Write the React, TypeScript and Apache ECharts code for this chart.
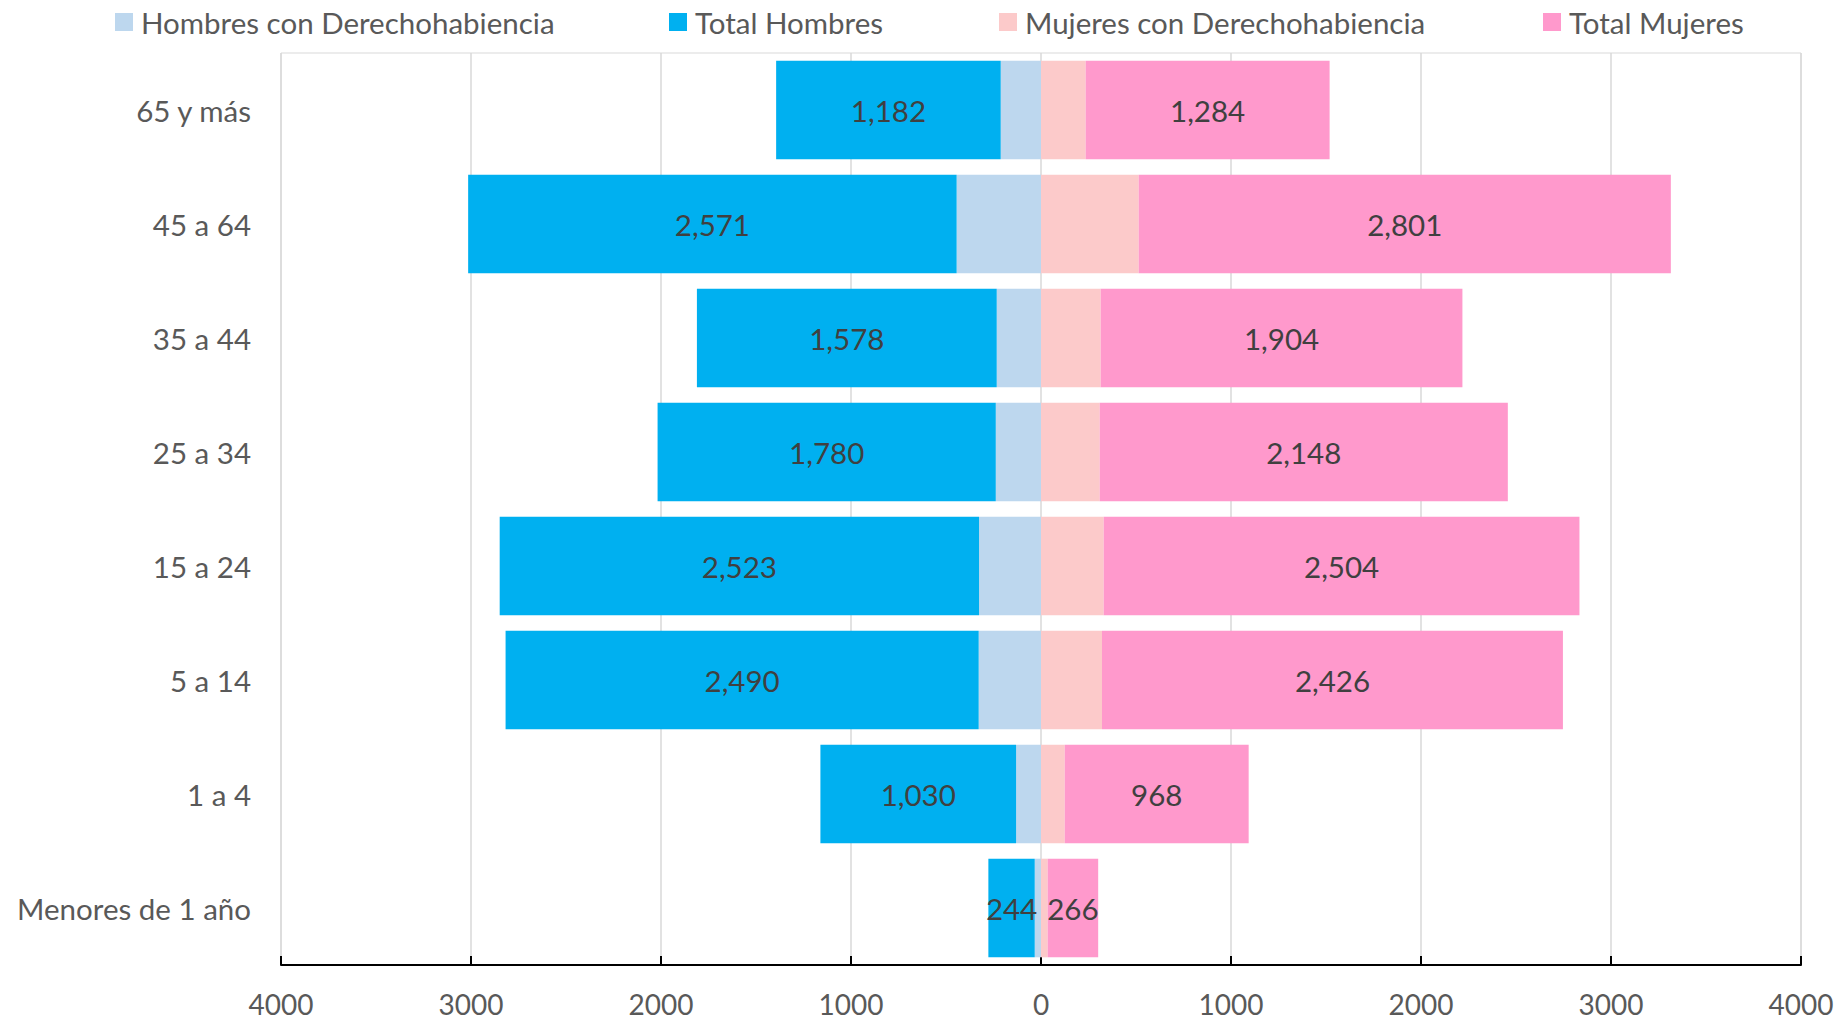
import React, { useEffect, useRef } from "react";
import * as echarts from "echarts";

const categories = ["Menores de 1 año", "1 a 4", "5 a 14", "15 a 24", "25 a 34", "35 a 44", "45 a 64", "65 y más"];
const hombresDH = [33, 131, 328, 326, 238, 233, 444, 212];
const totalHombres = [244, 1030, 2490, 2523, 1780, 1578, 2571, 1182];
const mujeresDH = [35, 125, 321, 330, 309, 314, 514, 235];
const totalMujeres = [266, 968, 2426, 2504, 2148, 1904, 2801, 1284];
const seriesNames = ["Hombres con Derechohabiencia", "Total Hombres", "Mujeres con Derechohabiencia", "Total Mujeres"];
const colors = ["#BDD7EE", "#00B0F0", "#FCCACA", "#FF99CC"];

const FONT = "Lato";
const FS = 29.5;

export default function App() {
  const ref = useRef<HTMLDivElement>(null);
  useEffect(() => {
    const chart = echarts.init(ref.current!, null, { renderer: "svg" });
    const fmt = (v: number) => Math.abs(v).toLocaleString("en-US");
    const valueLabel = {
      show: true,
      position: "inside",
      color: "#404040",
      fontFamily: FONT,
      fontSize: FS,
      formatter: (p: any) => fmt(p.value),
    };
    const legendPos = [115, 669, 999, 1543];
    const option: any = {
      animation: false,
      textStyle: { fontFamily: FONT },
      color: colors,
      legend: seriesNames.map((n, i) => ({
        data: [n],
        left: legendPos[i],
        top: 7,
        padding: 0,
        itemWidth: 18,
        itemHeight: 18,
        icon: "rect",
        selectedMode: false,
        textStyle: { color: "#595959", fontSize: FS, fontFamily: FONT, padding: [0, 0, 0, 3] },
      })),
      grid: {
        left: 281,
        right: 36,
        top: 53,
        bottom: 56,
        show: true,
        borderColor: "#D9D9D9",
        borderWidth: 1,
      },
      xAxis: {
        type: "value",
        min: -4000,
        max: 4000,
        interval: 1000,
        axisLine: { show: true, lineStyle: { color: "#000000", width: 2 } },
        axisTick: { show: true, inside: true, length: 9, lineStyle: { color: "#000000", width: 2 } },
        splitLine: { show: true, lineStyle: { color: "#D9D9D9", width: 1.5 } },
        axisLabel: {
          color: "#595959",
          fontSize: 28,
          lineHeight: 28,
          fontFamily: FONT,
          margin: 25,
          formatter: (v: number) => String(Math.abs(v)),
        },
      },
      yAxis: {
        type: "category",
        data: categories,
        axisLine: { show: false },
        axisTick: { show: false },
        axisLabel: { color: "#595959", fontSize: FS, fontFamily: FONT, margin: 30 },
      },
      series: [
        {
          name: seriesNames[0],
          type: "bar",
          stack: "h",
          barCategoryGap: "13.5%",
          barGap: "-100%",
          data: hombresDH.map((v) => -v),
        },
        {
          name: seriesNames[1],
          type: "bar",
          stack: "h",
          barCategoryGap: "13.5%",
          barGap: "-100%",
          label: valueLabel,
          data: totalHombres.map((v) => -v),
        },
        {
          name: seriesNames[2],
          type: "bar",
          stack: "m",
          barCategoryGap: "13.5%",
          barGap: "-100%",
          data: mujeresDH,
        },
        {
          name: seriesNames[3],
          type: "bar",
          stack: "m",
          barCategoryGap: "13.5%",
          barGap: "-100%",
          label: valueLabel,
          data: totalMujeres,
        },
      ],
    };
    chart.setOption(option);
    return () => chart.dispose();
  }, []);
  return (
    <div
      ref={ref}
      style={{ position: "fixed", left: 0, top: 0, width: 1837, height: 1021, background: "#ffffff" }}
    />
  );
}
